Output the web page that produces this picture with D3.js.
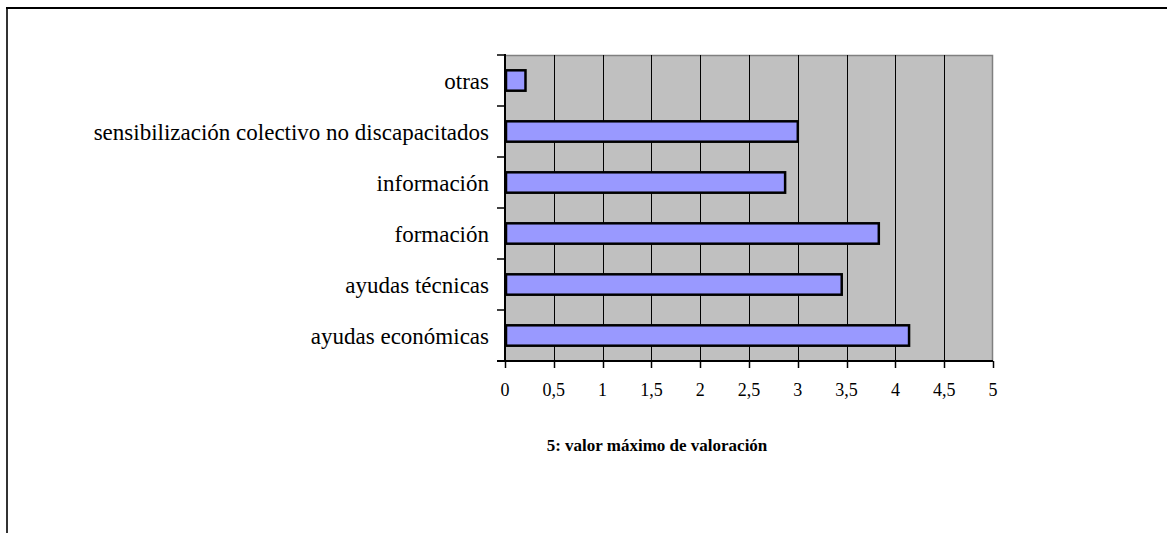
<!DOCTYPE html>
<html>
<head>
<meta charset="utf-8">
<script src="https://cdn.jsdelivr.net/npm/d3@7"></script>
<style>
  body { margin: 0; background: #fff; }
  svg { display: block; }
  text { font-family: "Liberation Serif", "Times New Roman", serif; fill: #000; }
</style>
</head>
<body>
<div class="chart"></div>
<script>
const categories = [
    'otras',
    'sensibilización colectivo no discapacitados',
    'información',
    'formación',
    'ayudas técnicas',
    'ayudas económicas',
];
const values = [0.21, 3.0, 2.87, 3.83, 3.45, 4.14];
const xTicks = [0, 0.5, 1, 1.5, 2, 2.5, 3, 3.5, 4, 4.5, 5];
const title = '5: valor máximo de valoración';

const w = 1167;
const h = 533;
const plot = { left: 505, right: 993, top: 55, bottom: 361 };

const svg = d3.select('.chart').append('svg').attr('width', w).attr('height', h);

// page frame (left + top only)
svg.append('line').attr('x1', 7).attr('x2', 7).attr('y1', 8).attr('y2', h)
    .attr('stroke', '#333').attr('stroke-width', 2);
svg.append('line').attr('x1', 6).attr('x2', w).attr('y1', 8).attr('y2', 8)
    .attr('stroke', '#000').attr('stroke-width', 2);

const x = d3.scaleLinear().domain([0, 5]).range([plot.left, plot.right]);
const y = d3.scaleBand().domain(categories).range([plot.top, plot.bottom]).paddingInner(0.6).paddingOuter(0.3);

// plot background
svg.append('rect')
    .attr('x', plot.left).attr('y', plot.top)
    .attr('width', plot.right - plot.left).attr('height', plot.bottom - plot.top)
    .attr('fill', '#c0c0c0');

// top and right border of plot area
svg.append('path')
    .attr('d', `M${plot.left},${plot.top + 0.5}H${plot.right - 0.5}V${plot.bottom}`)
    .attr('fill', 'none').attr('stroke', '#808080').attr('stroke-width', 1.5);

// gridlines
svg.append('g')
    .selectAll('line')
    .data(xTicks.slice(1, -1))
    .enter()
    .append('line')
    .attr('x1', (d) => Math.round(x(d)) + 0.5)
    .attr('x2', (d) => Math.round(x(d)) + 0.5)
    .attr('y1', plot.top)
    .attr('y2', plot.bottom)
    .attr('stroke', '#000')
    .attr('stroke-width', 1);

// bars
svg.append('g')
    .selectAll('rect')
    .data(categories)
    .enter()
    .append('rect')
    .attr('x', x(0) + 1)
    .attr('y', (d) => y(d))
    .attr('width', (d, i) => x(values[i]) - x(0) - 1)
    .attr('height', y.bandwidth())
    .attr('fill', '#9999ff')
    .attr('stroke', '#000')
    .attr('stroke-width', 2.5);

// left axis with ticks at category boundaries
const step = (plot.bottom - plot.top) / categories.length;
const yAxis = svg.append('g');
yAxis.append('line')
    .attr('x1', plot.left).attr('x2', plot.left)
    .attr('y1', plot.top - 1).attr('y2', plot.bottom + 1)
    .attr('stroke', '#000').attr('stroke-width', 2);
yAxis.selectAll('.tick')
    .data(d3.range(categories.length + 1))
    .enter()
    .append('line')
    .attr('x1', plot.left - 8).attr('x2', plot.left)
    .attr('y1', (i) => plot.top + i * step)
    .attr('y2', (i) => plot.top + i * step)
    .attr('stroke', '#000').attr('stroke-width', 1.5);
yAxis.selectAll('text')
    .data(categories)
    .enter()
    .append('text')
    .attr('x', plot.left - 16)
    .attr('y', (d) => y(d) + y.bandwidth() / 2)
    .attr('dy', '0.35em')
    .attr('text-anchor', 'end')
    .attr('font-size', 23)
    .text((d) => d);

// bottom axis
const xAxis = svg.append('g');
xAxis.append('line')
    .attr('x1', plot.left - 8).attr('x2', plot.right)
    .attr('y1', plot.bottom).attr('y2', plot.bottom)
    .attr('stroke', '#000').attr('stroke-width', 2);
xAxis.selectAll('.tick')
    .data(xTicks)
    .enter()
    .append('line')
    .attr('x1', (d) => Math.round(x(d)) + 0.5)
    .attr('x2', (d) => Math.round(x(d)) + 0.5)
    .attr('y1', plot.bottom)
    .attr('y2', plot.bottom + 7)
    .attr('stroke', '#000').attr('stroke-width', 1.5);
xAxis.selectAll('text')
    .data(xTicks)
    .enter()
    .append('text')
    .attr('x', (d) => x(d))
    .attr('y', 396)
    .attr('text-anchor', 'middle')
    .attr('font-size', 18)
    .text((d) => String(d).replace('.', ','));

svg.append('text')
    .attr('x', 657)
    .attr('y', 451)
    .attr('text-anchor', 'middle')
    .attr('font-size', 17)
    .attr('font-weight', 'bold')
    .text(title);
</script>
</body>
</html>
